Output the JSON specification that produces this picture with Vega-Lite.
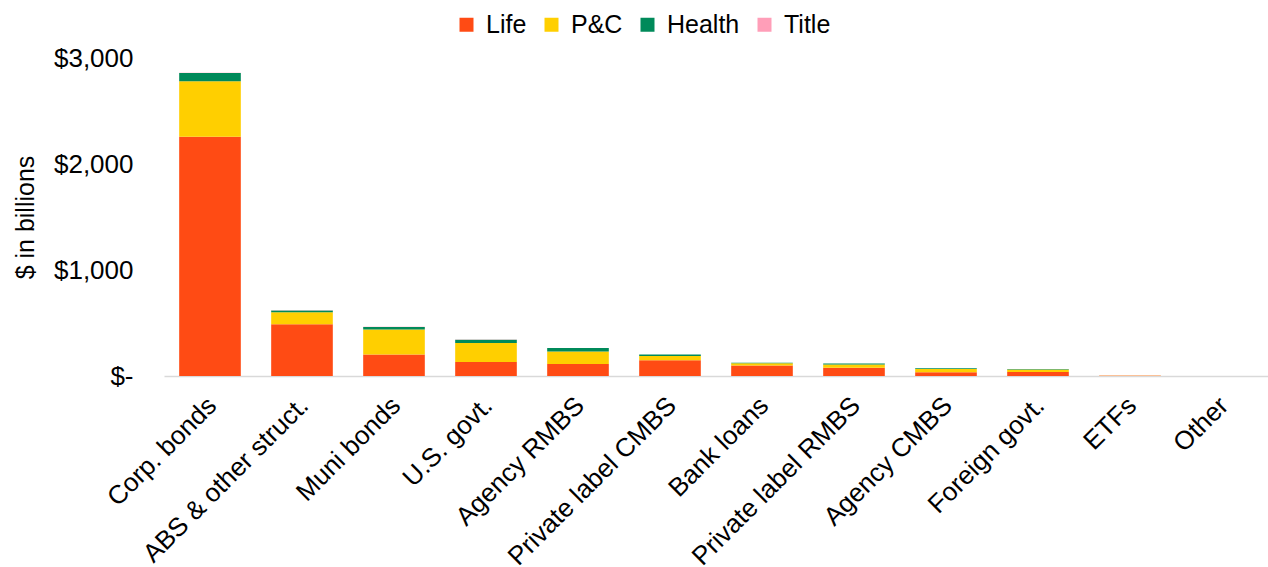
{
  "$schema": "https://vega.github.io/schema/vega-lite/v6.json",
  "width": 1104,
  "height": 318,
  "autosize": {"type": "none"},
  "padding": {"left": 164, "top": 58, "right": 0, "bottom": 191},
  "background": "white",
  "config": {
    "view": {"stroke": null},
    "font": "Liberation Sans",
    "text": {"font": "Liberation Sans"}
  },
  "data": {
    "values": [
      {"asset": "Corp. bonds", "sector": "Life", "rank": 1, "value": 2257},
      {"asset": "Corp. bonds", "sector": "P&C", "rank": 2, "value": 523},
      {"asset": "Corp. bonds", "sector": "Health", "rank": 3, "value": 78},
      {"asset": "Corp. bonds", "sector": "Title", "rank": 4, "value": 4},
      {"asset": "ABS & other struct.", "sector": "Life", "rank": 1, "value": 488},
      {"asset": "ABS & other struct.", "sector": "P&C", "rank": 2, "value": 113},
      {"asset": "ABS & other struct.", "sector": "Health", "rank": 3, "value": 17},
      {"asset": "ABS & other struct.", "sector": "Title", "rank": 4, "value": 2},
      {"asset": "Muni bonds", "sector": "Life", "rank": 1, "value": 202},
      {"asset": "Muni bonds", "sector": "P&C", "rank": 2, "value": 236},
      {"asset": "Muni bonds", "sector": "Health", "rank": 3, "value": 24},
      {"asset": "Muni bonds", "sector": "Title", "rank": 4, "value": 3},
      {"asset": "U.S. govt.", "sector": "Life", "rank": 1, "value": 133},
      {"asset": "U.S. govt.", "sector": "P&C", "rank": 2, "value": 179},
      {"asset": "U.S. govt.", "sector": "Health", "rank": 3, "value": 30},
      {"asset": "U.S. govt.", "sector": "Title", "rank": 4, "value": 2},
      {"asset": "Agency RMBS", "sector": "Life", "rank": 1, "value": 114},
      {"asset": "Agency RMBS", "sector": "P&C", "rank": 2, "value": 116},
      {"asset": "Agency RMBS", "sector": "Health", "rank": 3, "value": 34},
      {"asset": "Agency RMBS", "sector": "Title", "rank": 4, "value": 1},
      {"asset": "Private label CMBS", "sector": "Life", "rank": 1, "value": 148},
      {"asset": "Private label CMBS", "sector": "P&C", "rank": 2, "value": 41},
      {"asset": "Private label CMBS", "sector": "Health", "rank": 3, "value": 14},
      {"asset": "Private label CMBS", "sector": "Title", "rank": 4, "value": 1},
      {"asset": "Bank loans", "sector": "Life", "rank": 1, "value": 98},
      {"asset": "Bank loans", "sector": "P&C", "rank": 2, "value": 22},
      {"asset": "Bank loans", "sector": "Health", "rank": 3, "value": 4},
      {"asset": "Bank loans", "sector": "Title", "rank": 4, "value": 0},
      {"asset": "Private label RMBS", "sector": "Life", "rank": 1, "value": 78},
      {"asset": "Private label RMBS", "sector": "P&C", "rank": 2, "value": 31},
      {"asset": "Private label RMBS", "sector": "Health", "rank": 3, "value": 9},
      {"asset": "Private label RMBS", "sector": "Title", "rank": 4, "value": 0},
      {"asset": "Agency CMBS", "sector": "Life", "rank": 1, "value": 36},
      {"asset": "Agency CMBS", "sector": "P&C", "rank": 2, "value": 29},
      {"asset": "Agency CMBS", "sector": "Health", "rank": 3, "value": 8},
      {"asset": "Agency CMBS", "sector": "Title", "rank": 4, "value": 1},
      {"asset": "Foreign govt.", "sector": "Life", "rank": 1, "value": 38},
      {"asset": "Foreign govt.", "sector": "P&C", "rank": 2, "value": 23},
      {"asset": "Foreign govt.", "sector": "Health", "rank": 3, "value": 4},
      {"asset": "Foreign govt.", "sector": "Title", "rank": 4, "value": 0},
      {"asset": "ETFs", "sector": "Life", "rank": 1, "value": 2},
      {"asset": "ETFs", "sector": "P&C", "rank": 2, "value": 2},
      {"asset": "ETFs", "sector": "Health", "rank": 3, "value": 1},
      {"asset": "ETFs", "sector": "Title", "rank": 4, "value": 2},
      {"asset": "Other", "sector": "Life", "rank": 1, "value": 0.3},
      {"asset": "Other", "sector": "P&C", "rank": 2, "value": 0.3},
      {"asset": "Other", "sector": "Health", "rank": 3, "value": 0},
      {"asset": "Other", "sector": "Title", "rank": 4, "value": 0}
    ]
  },
  "mark": {"type": "bar"},
  "encoding": {
    "x": {
      "field": "asset",
      "type": "nominal",
      "sort": null,
      "scale": {"paddingInner": 0.33, "paddingOuter": 0.165},
      "axis": {
        "title": null,
        "labelAngle": -45,
        "labelFontSize": 26,
        "labelColor": "#000000",
        "labelPadding": 16,
        "labelOffset": -7,
        "ticks": false,
        "domainColor": "#D9D9D9",
        "domainWidth": 1.5,
        "labelLimit": 400
      }
    },
    "y": {
      "field": "value",
      "type": "quantitative",
      "stack": "zero",
      "scale": {"domain": [0, 3000], "nice": false},
      "axis": {
        "values": [0, 1000, 2000, 3000],
        "labelExpr": "datum.value === 0 ? '$-' : '$' + format(datum.value, ',')",
        "labelFontSize": 26,
        "labelColor": "#000000",
        "labelPadding": 31,
        "ticks": false,
        "domain": false,
        "grid": false,
        "title": "$ in billions",
        "titleFontSize": 25,
        "titleFontWeight": "normal",
        "titleColor": "#000000",
        "titleAngle": -90,
        "titleX": -139,
        "titleY": 159,
        "titleAlign": "center",
        "titleBaseline": "middle"
      }
    },
    "color": {
      "field": "sector",
      "type": "nominal",
      "scale": {
        "domain": ["Life", "P&C", "Health", "Title"],
        "range": ["#FF4B14", "#FFCF00", "#008A5A", "#FF9EB8"]
      },
      "legend": {
        "title": null,
        "orient": "none",
        "direction": "horizontal",
        "legendX": 290,
        "legendY": -46,
        "padding": 0,
        "symbolType": "square",
        "symbolSize": 196,
        "symbolStrokeWidth": 0,
        "symbolOpacity": 1,
        "labelFontSize": 25,
        "labelColor": "#000000",
        "labelOffset": 7,
        "columnPadding": 12
      }
    },
    "order": {"field": "rank", "type": "quantitative"}
  }
}
